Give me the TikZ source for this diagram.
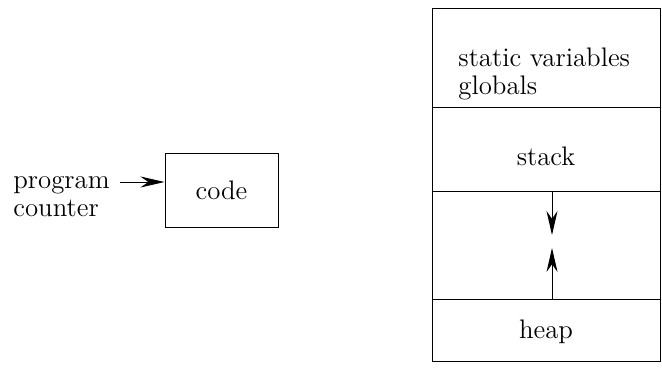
\documentclass[tikz,border=0pt]{standalone}
\usetikzlibrary{arrows.meta,positioning}

\begin{document}
\begin{tikzpicture}[x=0.5pt,y=-0.5pt,font=\fontsize{13.4}{14}\selectfont,
	zone/.style={draw,line width=0.5pt,minimum width=114pt,inner sep=0pt,outer sep=0pt},
	fleche/.style={-{Stealth[length=12pt,width=5.5pt]},line width=0.5pt}]
					\useasboundingbox (0,0) rectangle (662,371);
					\node[zone,minimum height=49.5pt] (statics) at (546,57.5){};
					\node[zone,minimum height=42pt,below=0pt of statics] (stack){};
					\node[zone,minimum height=54pt,below=0pt of stack] (libre){};
					\node[zone,minimum height=31pt,below=0pt of libre] (heap){};
					\node (stacktxt) at ([yshift=-3.5pt]stack.center){stack};
					\node (heaptxt) at ([yshift=-1pt]heap.center){heap};
					\node[align=left,anchor=west,inner sep=0pt] (globtxt) at ([xshift=13pt,yshift=-8pt]statics.west){static variables\\globals};
					\coordinate (pilebas) at ([xshift=3pt]stack.south);
					\coordinate (pilefin) at ([xshift=3pt,yshift=-22pt]stack.south);
					\coordinate (tashaut) at ([xshift=3pt]heap.north);
					\coordinate (tasfin) at ([xshift=3pt,yshift=25.5pt]heap.north);
					\draw[fleche](pilebas)--(pilefin);
					\draw[fleche](tashaut)--(tasfin);
					\node[draw,line width=0.5pt,minimum width=56.5pt,minimum height=37pt] (code) at (221.5,190){code};
					\node[align=left,anchor=west,inner sep=0pt] (pc) at (13,197){program\\counter};
					\coordinate (pcfin) at ([yshift=4pt]code.west);
					\draw[fleche](pc.east|-pcfin)++(5pt,0)--(pcfin);
				\end{tikzpicture}
\end{document}
